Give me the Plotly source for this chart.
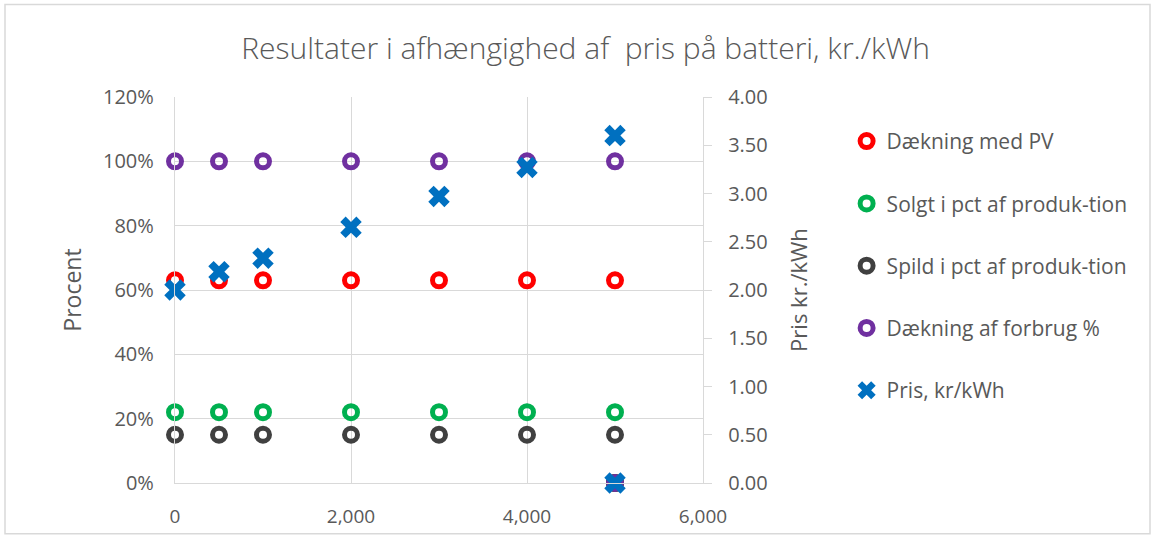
import plotly.graph_objects as go

x_vals = [0, 500, 1000, 2000, 3000, 4000, 5000, 5000]
daekning_pv = [0.63, 0.63, 0.63, 0.63, 0.63, 0.63, 0.63, 0.0]
solgt = [0.22, 0.22, 0.22, 0.22, 0.22, 0.22, 0.22, 0.0]
spild = [0.15, 0.15, 0.15, 0.15, 0.15, 0.15, 0.15, 0.0]
daekning_forbrug = [1.0, 1.0, 1.0, 1.0, 1.0, 1.0, 1.0, 0.0]
pris = [2.00, 2.19, 2.33, 2.65, 2.97, 3.27, 3.60, 0.0]

names = ["Dækning med PV", "Solgt i pct af produk-tion", "Spild i pct af produk-tion",
         "Dækning af forbrug %", "Pris, kr/kWh"]
colors = ["#FF0000", "#00B050", "#404040", "#7030A0", "#0070C0"]

txt = "#595959"
grid = "#D9D9D9"
font_family = "Open Sans, Noto Sans, sans-serif"

fig = go.Figure()
for i, (vals, nm, col) in enumerate(zip([daekning_pv, solgt, spild, daekning_forbrug], names[:4], colors[:4])):
    fig.add_trace(go.Scatter(
        x=x_vals, y=vals, mode="markers", name=nm, legendgroup=str(i),
        marker=dict(symbol="circle-open", size=13, color=col, line=dict(width=5, color=col)),
        cliponaxis=False,
    ))
fig.add_trace(go.Scatter(
    x=x_vals, y=pris, mode="markers", name=names[4], legendgroup="4", yaxis="y2",
    marker=dict(symbol="x", size=19, color=colors[4], line=dict(width=0)),
    cliponaxis=False,
))

fig.update_layout(
    width=1155, height=541,
    paper_bgcolor="white", plot_bgcolor="white",
    margin=dict(l=175, r=452, t=97, b=56),
    font=dict(family=font_family, size=19, color=txt),
    title=dict(text="Resultater i afhængighed af  pris på batteri, kr./kWh",
               x=0.507, xanchor="center", y=0.91, yanchor="middle",
               font=dict(size=30, color=txt, family=font_family, weight=300)),
    xaxis=dict(range=[0, 6000], tickvals=[0, 2000, 4000, 6000], tickformat=",",
               showgrid=True, gridcolor=grid, gridwidth=1.3,
               showline=True, linecolor=grid, linewidth=1.3, zeroline=False,
               ticks="", ticklabelstandoff=16, tickfont=dict(size=19, color=txt)),
    yaxis=dict(range=[0, 1.2], dtick=0.2, tickformat=".0%",
               showgrid=True, gridcolor=grid, gridwidth=1.3,
               showline=True, linecolor=grid, linewidth=1.3, zeroline=False,
               ticks="", ticklabelstandoff=16,
               title=dict(text="Procent", font=dict(size=23, color=txt), standoff=14),
               tickfont=dict(size=20, color=txt)),
    yaxis2=dict(range=[0, 4], dtick=0.5, tickformat=".2f", overlaying="y", side="right",
                showgrid=False, showline=True, linecolor=grid, linewidth=1.3, zeroline=False,
                ticks="outside", ticklen=8, tickcolor=grid, tickwidth=1.3,
                ticklabelstandoff=12,
                title=dict(text="Pris kr./kWh", font=dict(size=22, color=txt), standoff=24),
                tickfont=dict(size=20, color=txt)),
    legend=dict(x=1.272, xanchor="left", y=0.938, yanchor="top",
                font=dict(size=21, color=txt), tracegroupgap=32,
                itemsizing="trace", bgcolor="rgba(0,0,0,0)"),
    showlegend=True,
)

fig.add_shape(type="rect", xref="paper", yref="paper",
              x0=(5-175)/528, x1=(1150-175)/528, y0=-(536-485)/388, y1=(485-4)/388,
              line=dict(color="#D9D9D9", width=1.5), fillcolor="rgba(0,0,0,0)", layer="below")

fig.write_html("out.html")
